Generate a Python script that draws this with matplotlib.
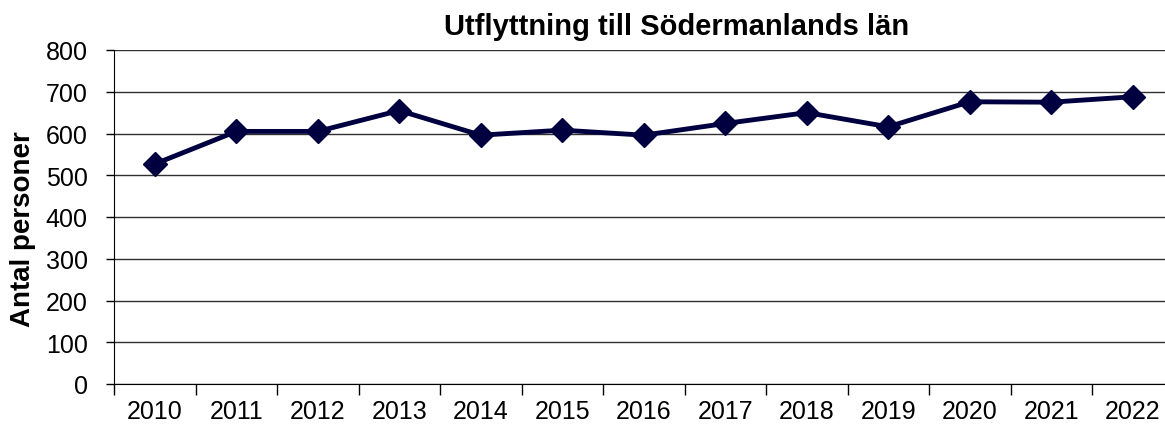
import numpy as np
import matplotlib.pyplot as plt

plt.rcParams['font.family'] = ['Liberation Sans', 'DejaVu Sans']

years = ['2010', '2011', '2012', '2013', '2014', '2015', '2016',
         '2017', '2018', '2019', '2020', '2021', '2022']
persons = [527, 605, 605, 655, 596, 608, 596, 624, 650, 616, 676, 675, 688]

fig = plt.figure(figsize=(11.65, 4.27), dpi=100)
ax = fig.add_axes([114/1165, 42/427, 1059.5/1165, 334/427])

x = np.arange(len(years))
ax.plot(x, persons, color='#000040', lw=3.5, marker='D', markersize=12,
        solid_joinstyle='miter')

ax.set_ylim(0, 800)
ax.set_yticks(np.arange(0, 801, 100))
ax.yaxis.grid(True, color='#303030', lw=1)
ax.set_axisbelow(True)

ax.set_xlim(-0.5, len(years) - 0.5)
ax.set_xticks(x)
ax.set_xticklabels(years)
ax.set_xticks(np.arange(-0.5, len(years)), minor=True)
ax.tick_params(axis='x', which='major', length=0, pad=11, labelsize=18)
ax.tick_params(axis='x', which='minor', length=8, width=1, direction='out')
ax.tick_params(axis='y', length=6, width=1, labelsize=18, pad=13)

for s in ['top', 'right']:
    ax.spines[s].set_visible(False)
ax.spines['left'].set_color('black')
ax.spines['bottom'].set_color('black')

ax.set_ylabel('Antal personer', fontsize=20, fontweight='bold', va='center')
ax.yaxis.set_label_coords(-0.086, 0.467)
fig.text(677/1165, 1 - 27/427, 'Utflyttning till Södermanlands län',
         ha='center', va='center', fontsize=21, fontweight='bold')

fig.savefig('out.png', dpi=100)
